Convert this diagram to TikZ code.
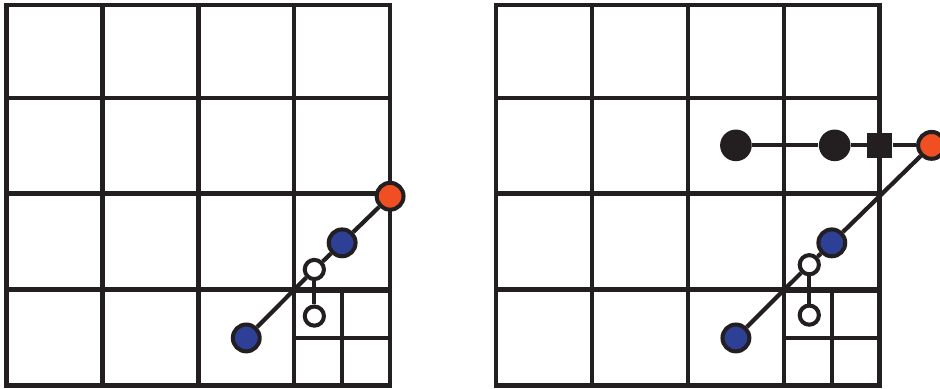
\documentclass[tikz,border=0pt]{standalone}
\usetikzlibrary{positioning}
\definecolor{ink}{HTML}{231F20}
\definecolor{dotblue}{HTML}{2E3F96}
\definecolor{dotorange}{HTML}{F04E23}

\begin{document}
\begin{tikzpicture}[
        x=1cm, y=0.9917cm,
        cellgrid/.style={draw=ink, line width=1.35pt},
        link/.style={draw=ink, line width=1.25pt},
        bigdot/.style={
            circle,
            draw=ink,
            line width=1.2pt,
            minimum size=0.28cm,
            inner sep=0pt
        },
        bluedot/.style={bigdot, fill=dotblue},
        reddot/.style={bigdot, fill=dotorange},
        hollowdot/.style={
            circle,
            draw=ink,
            fill=white,
            line width=1.2pt,
            minimum size=0.2cm,
            inner sep=0pt
        },
        blackdot/.style={circle, fill=ink, minimum size=0.33cm, inner sep=0pt},
        blacksq/.style={rectangle, fill=ink, minimum size=0.26cm, inner sep=0pt}
    ]
    \useasboundingbox (-0.0678,-0.0263) rectangle (9.734,4.0536);

    % Left panel
    \draw[cellgrid] (0,0) grid (4,4);
    \draw[cellgrid, step=0.5] (3,0) grid (4,1);
    \draw[cellgrid] (0,0) rectangle (4,4);

    \node[bluedot] (l_low) at (2.5,0.5) {};
    \node[hollowdot] (l_hop) at (3.21,1.22) {};
    \node[hollowdot] (l_sub) at (3.21,0.73) {};
    \node[bluedot] (l_mid) at (3.5,1.5) {};
    \node[reddot] (l_end) at (4,1.99) {};
    \draw[link] (l_low) -- (l_hop);
    \draw[link] (l_hop) -- (l_mid);
    \draw[link] (l_mid) -- (l_end);
    \draw[link] (l_hop) -- (l_sub);

    % Right panel
    \begin{scope}[xshift=5.106cm]
    \draw[cellgrid] (0,0) grid (4,4);
    \draw[cellgrid, step=0.5] (3,0) grid (4,1);
    \draw[cellgrid] (0,0) rectangle (4,4);

    \node[bluedot] (r_low) at (2.5,0.5) {};
    \node[hollowdot] (r_hop) at (3.265,1.27) {};
    \node[hollowdot] (r_sub) at (3.265,0.74) {};
    \node[bluedot] (r_mid) at (3.5,1.5) {};
    \node[reddot] (r_end) at (4.54,2.525) {};
    \node[blackdot] (r_k1) at (2.5,2.525) {};
    \node[blackdot] (r_k2) at (3.53,2.525) {};
    \node[blacksq] (r_sq) at (4,2.525) {};
    \draw[link] (r_low) -- (r_hop);
    \draw[link] (r_hop) -- (r_mid);
    \draw[link] (r_mid) -- (r_end);
    \draw[link] (r_hop) -- (r_sub);
    \draw[link] (r_k1) -- (r_k2);
    \draw[link] (r_k2) -- (r_sq);
    \draw[link] (r_sq) -- (r_end);
    \end{scope}

\end{tikzpicture}
\end{document}
